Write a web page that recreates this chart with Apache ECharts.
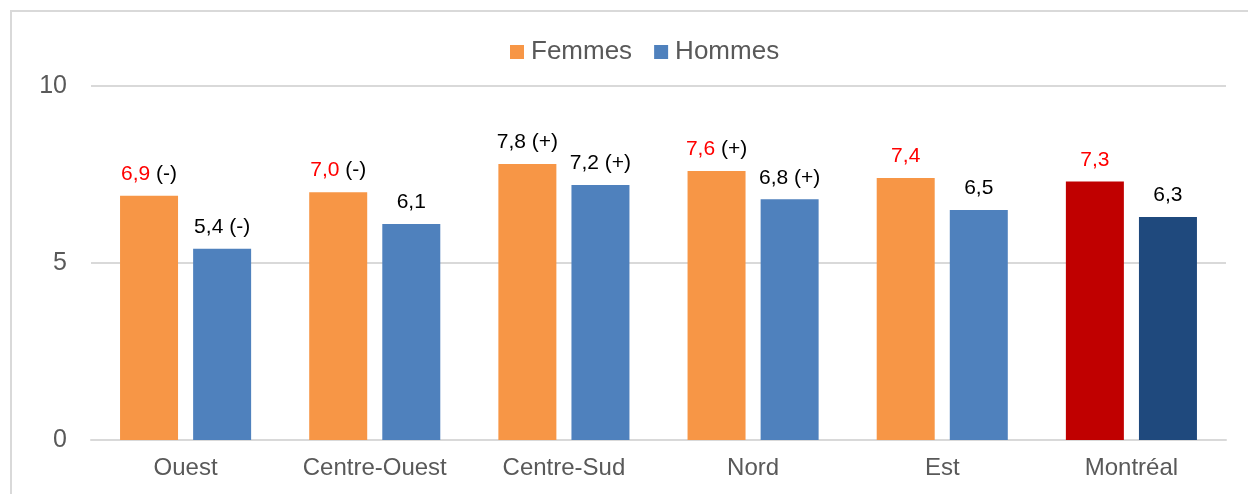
<!DOCTYPE html>
<html>
<head>
<meta charset="utf-8">
<script src="https://cdn.jsdelivr.net/npm/echarts@6/dist/echarts.min.js"></script>
<style>
  html, body { margin: 0; padding: 0; background: #fff; }
  #chart { width: 1248px; height: 494px; }
</style>
</head>
<body>
<div id="chart"></div>
<script>
// données
var regions = ['Ouest', 'Centre-Ouest', 'Centre-Sud', 'Nord', 'Est', 'Montréal']
var femmes = [6.9, 7.0, 7.8, 7.6, 7.4, 7.3]
var hommes = [5.4, 6.1, 7.2, 6.8, 6.5, 6.3]
// signes de comparaison et valeurs en rouge (femmes)
var femmesSigne = ['(-)', '(-)', '(+)', '(+)', '', '']
var femmesRouge = [true, true, false, true, true, true]
var hommesSigne = ['(-)', '', '(+)', '(+)', '', '']
var yTicks = [0, 5, 10]

var fontFamily = '"Liberation Sans", Arial, sans-serif'

function fmt(v) {
  return v.toFixed(1).replace('.', ',')
}

function barData(values, color, lastColor) {
  return values.map(function(v, i) {
    return {
      value: v,
      itemStyle: { color: i === values.length - 1 ? lastColor : color }
    }
  })
}

var chart = echarts.init(document.getElementById('chart'))
chart.setOption({
  animation: false,
  textStyle: { fontFamily: fontFamily },
  graphic: [{
    type: 'rect',
    shape: { x: 11, y: 11, width: 1260, height: 520 },
    style: { fill: 'none', stroke: '#d9d9d9', lineWidth: 2 },
    silent: true
  }],
  legend: {
    top: 34,
    left: 505,
    itemWidth: 14,
    itemHeight: 14,
    itemGap: 22,
    icon: 'rect',
    textStyle: { fontSize: 26, color: '#595959', fontFamily: fontFamily, padding: [0, 0, 0, 2] },
    data: ['Femmes', 'Hommes']
  },
  grid: {
    top: 86,
    bottom: 54,
    left: 91,
    right: 22
  },
  xAxis: {
    type: 'category',
    data: regions,
    axisLine: { lineStyle: { color: '#d9d9d9', width: 2 } },
    axisTick: { show: false },
    axisLabel: { fontSize: 24, color: '#595959', margin: 16 }
  },
  yAxis: {
    type: 'value',
    min: yTicks[0],
    max: yTicks[yTicks.length - 1],
    interval: 5,
    axisLine: { show: false },
    axisTick: { show: false },
    splitLine: { lineStyle: { color: '#d9d9d9', width: 2 } },
    axisLabel: { fontSize: 25, color: '#595959', margin: 24 }
  },
  series: [
    {
      name: 'Femmes',
      type: 'bar',
      barWidth: 58,
      barGap: '26%',
      itemStyle: { color: '#F79646' },
      data: barData(femmes, '#F79646', '#C00000'),
      label: {
        show: true,
        position: 'top',
        distance: 11,
        formatter: function(p) {
          var i = p.dataIndex
          var num = femmesRouge[i] ? '{r|' + fmt(p.value) + '}' : '{b|' + fmt(p.value) + '}'
          return femmesSigne[i] ? num + '{b| ' + femmesSigne[i] + '}' : num
        },
        rich: {
          r: { color: '#FF0000', fontSize: 21, fontFamily: fontFamily },
          b: { color: '#000000', fontSize: 21, fontFamily: fontFamily }
        }
      }
    },
    {
      name: 'Hommes',
      type: 'bar',
      barWidth: 58,
      itemStyle: { color: '#4F81BD' },
      data: barData(hommes, '#4F81BD', '#1F497D'),
      label: {
        show: true,
        position: 'top',
        distance: 11,
        color: '#000',
        fontSize: 21,
        formatter: function(p) {
          var s = hommesSigne[p.dataIndex]
          return fmt(p.value) + (s ? ' ' + s : '')
        }
      }
    }
  ]
})
</script>
</body>
</html>
